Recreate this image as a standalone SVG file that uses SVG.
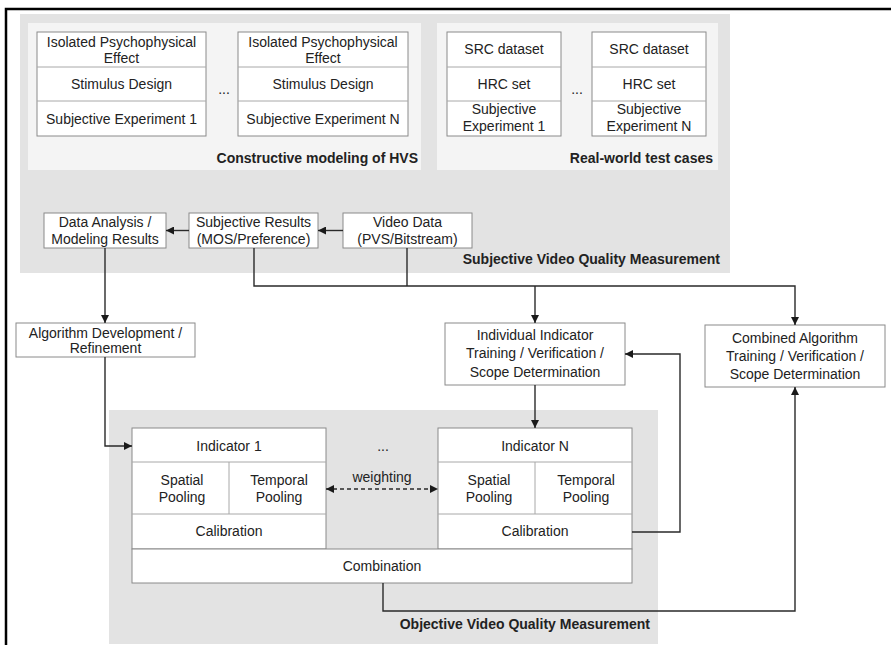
<svg xmlns="http://www.w3.org/2000/svg" width="891" height="645" viewBox="0 0 891 645">
  <style>
    text { font-family: "Liberation Sans", Arial, sans-serif; font-size: 14px; fill: #222; text-anchor: middle; }
    .title { font-weight: bold; text-anchor: end; }
    .box { fill: #fff; stroke: #8a8a8a; stroke-width: 1; }
    .div { stroke: #a8a8a8; stroke-width: 1; fill: none; }
    .panel { fill: #e3e3e3; }
    .sub { fill: #f4f4f4; }
    .wire { fill: none; stroke: #2a2a2a; stroke-width: 1.4; }
  </style>
  <defs>
    <marker id="arr" viewBox="0 0 10 10" refX="10" refY="5" markerWidth="8" markerHeight="8" markerUnits="userSpaceOnUse" orient="auto-start-reverse">
      <path d="M0,0 L10,5 L0,10 Z" fill="#1a1a1a"/>
    </marker>
  </defs>

  <rect width="891" height="645" fill="#fff"/>
  <!-- frame -->
  <path d="M6,645 V9 H891" fill="none" stroke="#000" stroke-width="2.5"/>

  <!-- subjective measurement panel -->
  <g id="subjective-panel">
    <rect class="panel" x="20" y="14" width="710" height="259"/>
    <rect class="sub" x="28" y="23" width="393" height="147"/>
    <rect class="sub" x="437" y="23" width="281" height="147"/>
    <text class="title" x="418" y="163">Constructive modeling of HVS</text>
    <text class="title" x="713" y="163">Real-world test cases</text>
    <text class="title" x="720" y="264">Subjective Video Quality Measurement</text>
  </g>

  <g id="hvs-exp-1">
    <rect class="box" x="37" y="32" width="169" height="104"/>
    <line class="div" x1="37" y1="67" x2="206" y2="67"/>
    <line class="div" x1="37" y1="101" x2="206" y2="101"/>
    <text x="121.5" y="47">Isolated Psychophysical</text>
    <text x="121.5" y="63">Effect</text>
    <text x="121.5" y="89">Stimulus Design</text>
    <text x="121.5" y="124">Subjective Experiment 1</text>
  </g>
  <text x="224" y="94">...</text>
  <g id="hvs-exp-n">
    <rect class="box" x="238" y="32" width="170" height="104"/>
    <line class="div" x1="238" y1="67" x2="408" y2="67"/>
    <line class="div" x1="238" y1="101" x2="408" y2="101"/>
    <text x="323" y="47">Isolated Psychophysical</text>
    <text x="323" y="63">Effect</text>
    <text x="323" y="89">Stimulus Design</text>
    <text x="323" y="124">Subjective Experiment N</text>
  </g>

  <g id="real-exp-1">
    <rect class="box" x="447" y="32" width="114" height="104"/>
    <line class="div" x1="447" y1="67" x2="561" y2="67"/>
    <line class="div" x1="447" y1="101" x2="561" y2="101"/>
    <text x="504" y="54">SRC dataset</text>
    <text x="504" y="89">HRC set</text>
    <text x="504" y="114">Subjective</text>
    <text x="504" y="131">Experiment 1</text>
  </g>
  <text x="577" y="94">...</text>
  <g id="real-exp-n">
    <rect class="box" x="592" y="32" width="114" height="104"/>
    <line class="div" x1="592" y1="67" x2="706" y2="67"/>
    <line class="div" x1="592" y1="101" x2="706" y2="101"/>
    <text x="649" y="54">SRC dataset</text>
    <text x="649" y="89">HRC set</text>
    <text x="649" y="114">Subjective</text>
    <text x="649" y="131">Experiment N</text>
  </g>

  <g id="data-analysis">
    <rect class="box" x="44" y="213" width="122" height="35"/>
    <text x="105" y="227">Data Analysis /</text>
    <text x="105" y="244">Modeling Results</text>
  </g>
  <g id="subjective-results">
    <rect class="box" x="189" y="213" width="129" height="35"/>
    <text x="253.5" y="227">Subjective Results</text>
    <text x="253.5" y="244">(MOS/Preference)</text>
  </g>
  <g id="video-data">
    <rect class="box" x="343" y="213" width="129" height="35"/>
    <text x="407.5" y="227">Video Data</text>
    <text x="407.5" y="244">(PVS/Bitstream)</text>
  </g>

  <g id="algorithm-dev">
    <rect class="box" x="16" y="323" width="179" height="34"/>
    <text x="105.5" y="338">Algorithm Development /</text>
    <text x="105.5" y="353">Refinement</text>
  </g>
  <g id="individual-training">
    <rect class="box" x="445" y="323" width="180" height="62"/>
    <text x="535" y="340">Individual Indicator</text>
    <text x="535" y="358">Training / Verification /</text>
    <text x="535" y="377">Scope Determination</text>
  </g>
  <g id="combined-training">
    <rect class="box" x="705" y="325" width="180" height="62"/>
    <text x="795" y="343">Combined Algorithm</text>
    <text x="795" y="361">Training / Verification /</text>
    <text x="795" y="379">Scope Determination</text>
  </g>

  <!-- objective measurement panel -->
  <g id="objective-panel">
    <rect class="panel" x="109" y="410" width="549" height="234"/>
    <text class="title" x="650" y="629">Objective Video Quality Measurement</text>
  </g>

  <g id="indicator-1">
    <rect class="box" x="132" y="428" width="194" height="121"/>
    <line class="div" x1="132" y1="462" x2="326" y2="462"/>
    <line class="div" x1="132" y1="514" x2="326" y2="514"/>
    <line class="div" x1="229" y1="462" x2="229" y2="514"/>
    <text x="229" y="451">Indicator 1</text>
    <text x="182" y="485">Spatial</text>
    <text x="182" y="502">Pooling</text>
    <text x="279" y="485">Temporal</text>
    <text x="279" y="502">Pooling</text>
    <text x="229" y="536">Calibration</text>
  </g>
  <text x="383" y="451">...</text>
  <g id="indicator-n">
    <rect class="box" x="438" y="428" width="194" height="121"/>
    <line class="div" x1="438" y1="462" x2="632" y2="462"/>
    <line class="div" x1="438" y1="514" x2="632" y2="514"/>
    <line class="div" x1="535" y1="462" x2="535" y2="514"/>
    <text x="535" y="451">Indicator N</text>
    <text x="489" y="485">Spatial</text>
    <text x="489" y="502">Pooling</text>
    <text x="586" y="485">Temporal</text>
    <text x="586" y="502">Pooling</text>
    <text x="535" y="536">Calibration</text>
  </g>
  <g id="combination">
    <rect class="box" x="132" y="549" width="500" height="34"/>
    <text x="382" y="571">Combination</text>
  </g>

  <g id="connectors">
    <line class="wire" x1="343" y1="230.5" x2="318" y2="230.5" marker-end="url(#arr)"/>
    <line class="wire" x1="189" y1="230.5" x2="166" y2="230.5" marker-end="url(#arr)"/>
    <path class="wire" d="M254,248 V286 H795 V325" marker-end="url(#arr)"/>
    <line class="wire" x1="407" y1="248" x2="407" y2="286"/>
    <line class="wire" x1="535" y1="286" x2="535" y2="323" marker-end="url(#arr)"/>
    <line class="wire" x1="105" y1="248" x2="105" y2="323" marker-end="url(#arr)"/>
    <path class="wire" d="M105,357 V446 H132" marker-end="url(#arr)"/>
    <line class="wire" x1="535" y1="385" x2="535" y2="428" marker-end="url(#arr)"/>
    <path class="wire" d="M632,532 H680 V354 H625" marker-end="url(#arr)"/>
    <path class="wire" d="M383,583 V611 H795 V387" marker-end="url(#arr)"/>
    <line class="wire" x1="326" y1="489" x2="438" y2="489" stroke-dasharray="4,3" marker-start="url(#arr)" marker-end="url(#arr)"/>
    <text x="382" y="482">weighting</text>
  </g>
</svg>
